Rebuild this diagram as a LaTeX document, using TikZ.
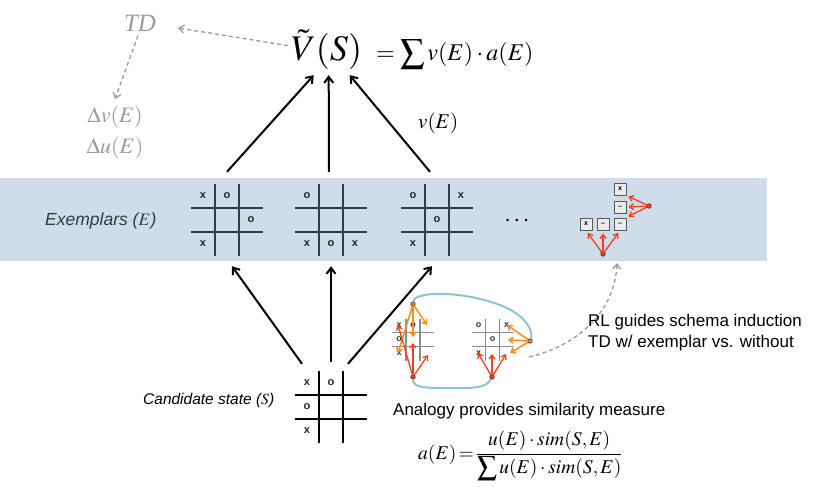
\documentclass[tikz,border=0pt]{standalone}
\usepackage{mathptmx}
\usepackage{fontspec}
\setmainfont{Liberation Serif}
\setsansfont{Liberation Sans}
\usetikzlibrary{arrows.meta,positioning}

\definecolor{bandblue}{HTML}{CFDDEB}
\definecolor{slate}{HTML}{2E3D4C}
\definecolor{loopcyan}{HTML}{8CC4CF}
\definecolor{redarr}{HTML}{F5401E}
\definecolor{orarr}{HTML}{F98C1E}
\definecolor{dashgray}{HTML}{9A9A9A}

% tic-tac-toe lines: centre x, centre y, cell, style
\newcommand{\tttboard}[4]{%
  \foreach \k in {-0.5,0.5} {
    \draw[#4] ({#1+\k*#3},{#2-1.5*#3}) -- ({#1+\k*#3},{#2+1.5*#3});
    \draw[#4] ({#1-1.5*#3},{#2+\k*#3}) -- ({#1+1.5*#3},{#2+\k*#3});
  }}

\tikzset{
  up/.style={-{Straight Barb[length=6pt,width=9pt]},line width=2pt},
  gdash/.style={dashgray,dashed,dash pattern=on 4pt off 3pt,line width=1.3pt,
    -{Straight Barb[length=5pt,width=8pt]}},
  gtext/.style={text=dashgray,font=\fontsize{22}{31}\selectfont},
  boardbox/.style={minimum width=72pt,minimum height=94pt,inner sep=0pt},
  xo/.style={font=\sffamily\bfseries\fontsize{11}{11}\selectfont,text=black!85,inner sep=0pt},
  minixo/.style={font=\sffamily\bfseries\fontsize{9}{9}\selectfont,text=black!80,inner sep=0pt},
  exline/.style={slate,line width=1.3pt},
  minline/.style={black!45,line width=1.4pt},
  schbox/.style={draw=black!65,fill=black!8,line width=1pt,minimum size=12pt,inner sep=0pt,
    font=\sffamily\bfseries\fontsize{7}{7}\selectfont},
  rdot/.style={circle,draw=black!80,line width=.6pt,fill=redarr,minimum size=4.5pt,inner sep=0pt},
  odot/.style={rdot,fill=orarr},
  rarr/.style={redarr,line width=1.3pt,-{Straight Barb[length=4pt,width=6pt]}},
  oarr/.style={orarr,line width=1.5pt,-{Straight Barb[length=4pt,width=6pt]}},
  sans/.style={font=\sffamily\fontsize{17}{21}\selectfont,align=left}
}

\begin{document}
\begin{tikzpicture}[x=1pt,y=-1pt]
  \useasboundingbox (0,0) rectangle (830,487);

  % exemplar band
  \fill[bandblue] (0,178) rectangle (767,261);
  \node[anchor=base west,text=slate,inner sep=0pt,font=\sffamily\itshape\fontsize{17.5}{17.5}\selectfont]
    (exlabel) at (45,225) {Exemplars ($E$)};

  % value estimate
  \node[anchor=base west,inner xsep=0pt,inner ysep=6pt] (eqV) at (291,60)
    {\fontsize{36}{40}\selectfont$\tilde{V}(S)$};
  \node[anchor=base west,inner sep=0pt] (eqR) at (376,60)
    {\fontsize{24}{28}\selectfont$=\displaystyle\sum v(E)\cdot a(E)$};
  \node[anchor=base west,inner sep=0pt,font=\fontsize{21}{21}\selectfont] (lblv) at (418,128) {$v(E)$};

  % TD update
  \node[gtext,anchor=base,font=\itshape\fontsize{25}{25}\selectfont] (td) at (140,32) {TD};
  \node[gtext,align=center,anchor=north,inner ysep=7pt] (delta) at (115,99)
    {$\Delta v(E)$\\$\Delta u(E)$};
  \coordinate (tdtip) at (178,28);
  \draw[gdash] ([xshift=-3pt,yshift=4pt]eqV.west) -- (tdtip);
  \draw[gdash] ([xshift=-2pt]td.south) -- (delta.north);

  % exemplar boards
  \node[boardbox] (e1) at (227,219) {};
  \node[boardbox] (e2) at (331,219) {};
  \node[boardbox] (e3) at (437,219) {};
  \tttboard{227}{220}{24}{exline}
  \tttboard{331}{220}{24}{exline}
  \tttboard{437}{220}{24}{exline}
  \foreach \c/\r/\m [count=\i] in {0/0/x,1/0/o,2/1/o,0/2/x}
    \node[xo] (ea\i) at ({227+(\c-1)*24},{220+(\r-1)*24}) {\m};
  \foreach \c/\r/\m [count=\i] in {0/0/o,0/2/x,1/2/o,2/2/x}
    \node[xo] (eb\i) at ({331+(\c-1)*24},{220+(\r-1)*24}) {\m};
  \foreach \c/\r/\m [count=\i] in {0/0/o,2/0/x,1/1/o,0/2/x}
    \node[xo] (ec\i) at ({437+(\c-1)*24},{220+(\r-1)*24}) {\m};
  \node[inner sep=0pt,font=\fontsize{24}{24}\selectfont] (more) at (517,221) {$\cdots$};

  % schema
  \node[schbox] (bx1) at (620,189) {x};
  \node[schbox] (bx2) at (620,207) {--};
  \node[schbox] (bx3) at (586,224) {x};
  \node[schbox] (bx4) at (603,224) {--};
  \node[schbox] (bx5) at (620,224) {--};
  \node[rdot] (sR) at (649,206) {};
  \node[rdot] (sB) at (603,254) {};
  \draw[rarr,shorten >=2pt] (sR) -- (bx1.south east);
  \draw[rarr,shorten >=2pt] (sR) -- (bx2.east);
  \draw[rarr,shorten >=2pt] (sR) -- (bx5.north east);
  \foreach \b in {bx3,bx4,bx5}
    \draw[rarr,shorten >=3pt] (sB) -- (\b.south);

  % arrows up to the estimate
  \draw[up] (e1.north) -- ([xshift=-13pt]eqV.south);
  \draw[up] ([xshift=-2pt]e2.north) -- ([xshift=2pt]eqV.south);
  \draw[up] ([xshift=-7pt]e3.north) -- ([xshift=23pt]eqV.south);

  % candidate state
  \node[boardbox,minimum height=90pt] (cand) at (331,407) {};
  \tttboard{331}{407}{24}{black,line width=1.2pt}
  \foreach \c/\r/\m [count=\i] in {0/0/x,1/0/o,0/1/o,0/2/x}
    \node[xo] (cs\i) at ({331+(\c-1)*24},{407+(\r-1)*24}) {\m};
  \node[anchor=base west,inner sep=0pt,font=\sffamily\itshape\fontsize{15.5}{15.5}\selectfont]
    (candlabel) at (143,404) {Candidate state ($S$)};
  \draw[up] ([xshift=-29pt,yshift=-2pt]cand.north) -- ([xshift=5pt]e1.south);
  \draw[up] (cand.north) -- (e2.south);
  \draw[up] ([xshift=17pt,yshift=-2pt]cand.north) -- ([xshift=-5pt]e3.south);

  % analogy
  \node[odot] (aTop) at (413,304) {};
  \node[rdot] (aBot) at (413,377) {};
  \node[odot] (bRight) at (530,341) {};
  \node[rdot] (bBot) at (492,377) {};
  \draw[loopcyan,line width=2pt] (aTop) .. controls (415,290) and (470,291) .. (507,308)
    .. controls (529,319) and (533,333) .. (bRight);
  \draw[loopcyan,line width=2pt] (bBot) .. controls (486,389) and (470,388) .. (450,388)
    .. controls (425,388) and (413,388) .. (aBot);
  \tttboard{413}{339.5}{14}{minline}
  \tttboard{492.5}{339.5}{14}{minline}
  \foreach \c/\r/\m [count=\i] in {0/0/x,1/0/o,0/1/o,0/2/x}
    \node[minixo] (ma\i) at ({413+(\c-1)*14},{339.5+(\r-1)*14}) {\m};
  \foreach \c/\r/\m [count=\i] in {0/0/o,2/0/x,1/1/o,0/2/x}
    \node[minixo] (mb\i) at ({492.5+(\c-1)*14},{339.5+(\r-1)*14}) {\m};
  \foreach \p in {(427,325),(413,337),(398,353)}
    \draw[oarr] (aTop) -- \p;
  \foreach \p in {(398,325),(413,343),(428,355)}
    \draw[rarr] (aBot) -- \p;
  \foreach \p in {(507,325),(508,340),(510,353)}
    \draw[oarr] (bRight) -- \p;
  \foreach \p in {(478,353),(492,354),(506,354)}
    \draw[rarr] (bBot) -- \p;

  % RL note
  \coordinate (rlstart) at (529,357);
  \coordinate (rltip) at (617,263);
  \draw[gdash] (rlstart) .. controls (580,345) and (615,310) .. (rltip);
  \node[sans,anchor=base west,inner sep=0pt] (rlnote) at (588,347)
    {RL guides schema induction\\TD w/ exemplar vs. without};

  % similarity
  \node[anchor=base west,inner sep=0pt,font=\sffamily\fontsize{17}{17}\selectfont]
    (simnote) at (393,415) {Analogy provides similarity measure};
  \node[anchor=base west,inner sep=0pt,font=\fontsize{19.5}{22}\selectfont] (simeq) at (418,459)
    {$a(E)\!=\!\displaystyle\frac{u(E)\cdot \mathit{sim}(S,E)}{\displaystyle\sum u(E)\cdot \mathit{sim}(S,E)}$};
\end{tikzpicture}
\end{document}
